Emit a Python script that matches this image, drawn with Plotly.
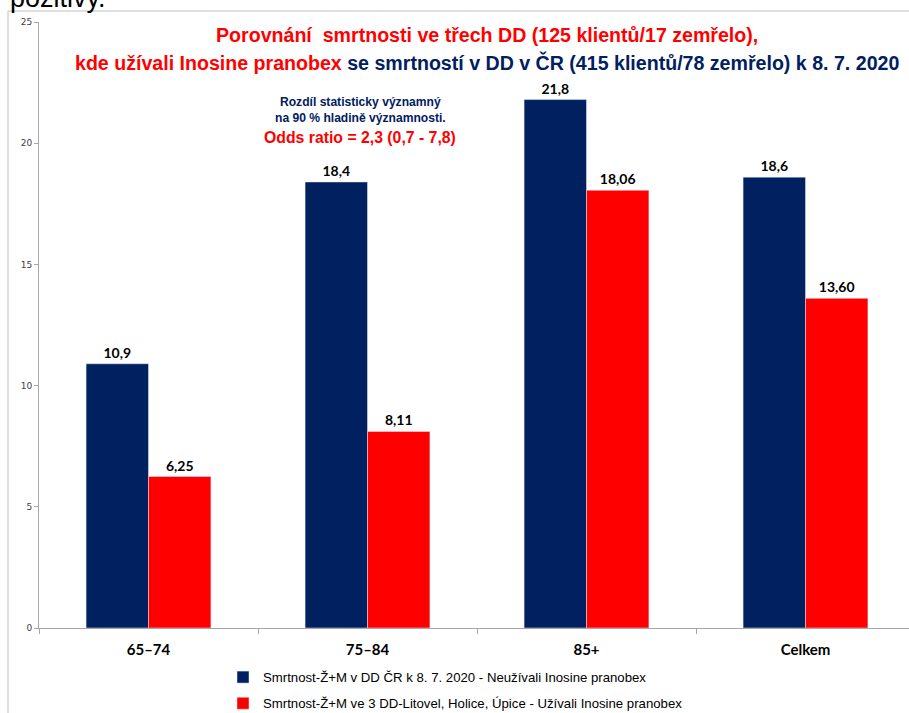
import plotly.graph_objects as go

categories = ["65–74", "75–84", "85+", "Celkem"]
cr_values = [10.9, 18.4, 21.8, 18.6]
cr_labels = ["10,9", "18,4", "21,8", "18,6"]
ip_values = [6.25, 8.11, 18.06, 13.60]
ip_labels = ["6,25", "8,11", "18,06", "13,60"]
series_names = [
    "Smrtnost-Ž+M v DD ČR k 8. 7. 2020 - Neužívali Inosine pranobex",
    "Smrtnost-Ž+M ve 3 DD-Litovel, Holice, Úpice - Užívali Inosine pranobex",
]
y_ticks = [0, 5, 10, 15, 20, 25]

NAVY = "#002060"
RED = "#FF0000"
W, H = 909, 713
ML, MR, MT, MB = 39, 0, 22, 85
PW = W - ML - MR
PH = H - MT - MB


def px(xp):
    return (xp - ML) / PW


def py(yp):
    return (H - MB - yp) / PH


cat_px = 219.0
x_max = -0.5 + PW / cat_px

label_font = dict(family="Lato", size=14, color="black", weight="bold")

fig = go.Figure()
fig.add_trace(go.Bar(
    x=categories, y=cr_values, name=series_names[0], marker_color=NAVY,
    text=cr_labels, textposition="outside", cliponaxis=False,
    textfont=label_font, legendgroup="a",
))
fig.add_trace(go.Bar(
    x=categories, y=ip_values, name=series_names[1], marker_color=RED,
    text=ip_labels, textposition="outside", cliponaxis=False,
    textfont=label_font, legendgroup="b",
))

SANS = "Liberation Sans, Arial"
title_font = dict(family=SANS, size=19.6, color=RED)
annotations = [
    dict(x=px(8), y=py(-2), xref="paper", yref="paper", xanchor="left", yanchor="middle",
         text="pozitivy.", showarrow=False,
         font=dict(family=SANS, size=27, color="black")),
    dict(x=px(487), y=py(35), xref="paper", yref="paper", xanchor="center", yanchor="middle",
         text="<b>Porovnání  smrtnosti ve třech DD (125 klientů/17 zemřelo),</b>", showarrow=False,
         font=title_font),
    dict(x=px(487), y=py(62), xref="paper", yref="paper", xanchor="center", yanchor="middle",
         text="<b>kde užívali Inosine pranobex</b><b><span style='color:%s'> se smrtností v DD v ČR (415 klientů/78 zemřelo) k 8. 7. 2020</span></b>" % NAVY,
         showarrow=False, font=title_font),
    dict(x=px(360), y=py(102), xref="paper", yref="paper", xanchor="center", yanchor="middle",
         text="<b>Rozdíl statisticky významný</b>", showarrow=False,
         font=dict(family=SANS, size=12.1, color=NAVY)),
    dict(x=px(360), y=py(118), xref="paper", yref="paper", xanchor="center", yanchor="middle",
         text="<b>na 90 % hladině významnosti.</b>", showarrow=False,
         font=dict(family=SANS, size=12.1, color=NAVY)),
    dict(x=px(360), y=py(137), xref="paper", yref="paper", xanchor="center", yanchor="middle",
         text="<b>Odds ratio = 2,3 (0,7 - 7,8)</b>", showarrow=False,
         font=dict(family=SANS, size=15.8, color=RED)),
]

shapes = [
    dict(type="line", xref="paper", yref="paper", x0=px(8), x1=px(8), y0=py(713), y1=py(11),
         line=dict(color="#bfbfbf", width=1)),
    dict(type="line", xref="paper", yref="paper", x0=px(8), x1=1.0, y0=py(11), y1=py(11),
         line=dict(color="#bfbfbf", width=1)),
]

fig.update_layout(
    width=W, height=H,
    margin=dict(l=ML, r=MR, t=MT, b=MB, pad=0, autoexpand=False),
    paper_bgcolor="white", plot_bgcolor="white",
    barmode="group", bargap=0.43, bargroupgap=0,
    showlegend=True,
    legend=dict(
        x=px(223), y=py(662), xanchor="left", yanchor="top",
        orientation="v", traceorder="grouped", tracegroupgap=6,
        font=dict(family=SANS, size=13.2, color="black"),
        bgcolor="rgba(0,0,0,0)", itemwidth=30,
    ),
    annotations=annotations,
    shapes=shapes,
)
fig.update_xaxes(
    range=[-0.5, x_max], showline=True, linecolor="#a6a6a6", linewidth=1,
    ticks="outside", tickson="boundaries", ticklen=5, tickcolor="#a6a6a6",
    tickfont=dict(family="Lato", size=15, color="black", weight="bold"),
    showgrid=False, zeroline=False, ticklabelstandoff=8, automargin=False,
)
fig.update_yaxes(
    range=[0, 25], tickvals=y_ticks, showline=True, linecolor="#a6a6a6", linewidth=1,
    ticks="outside", ticklen=4, tickcolor="#a6a6a6",
    tickfont=dict(family="DejaVu Sans", size=9, color="#404040"),
    showgrid=False, zeroline=False, automargin=False,
)

fig.write_html("out.html", config={"displayModeBar": False},
               post_script="document.body.style.margin='0px';")
